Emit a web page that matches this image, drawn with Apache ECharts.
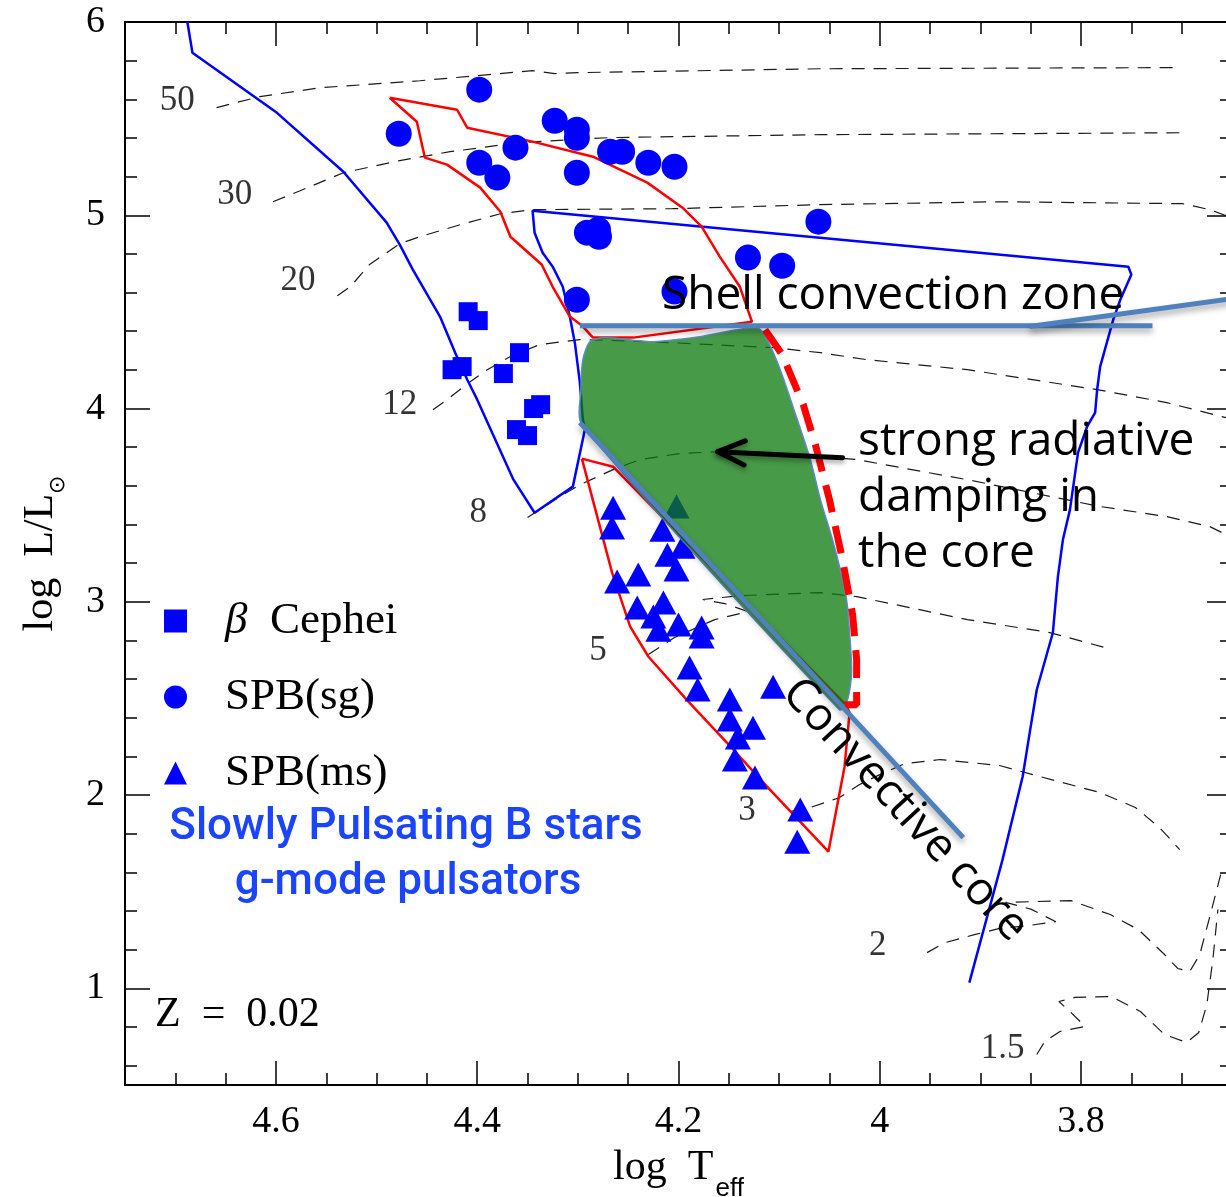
<!DOCTYPE html>
<html>
<head>
<meta charset="utf-8">
<script src="https://cdn.jsdelivr.net/npm/echarts@6/dist/echarts.min.js"></script>
<style>
  html, body { margin: 0; padding: 0; background: #fff; }
  #chart { width: 1226px; height: 1197px; }
</style>
</head>
<body>
<div id="chart"></div>
<script>
// HR diagram: SPB / beta Cephei stars, Z = 0.02

// axis ranges and ticks
const X_MIN = 3.65, X_MAX = 4.75;
const Y_MIN = 0.5, Y_MAX = 6;
const xMajor = [3.8, 4.0, 4.2, 4.4, 4.6];
const xMinor = [3.7, 3.75, 3.85, 3.9, 3.95, 4.05, 4.1, 4.15, 4.25, 4.3, 4.35, 4.45, 4.5, 4.55, 4.65, 4.7];
const yMajor = [1, 2, 3, 4, 5, 6];
const yMinor = [0.6, 0.8, 1.2, 1.4, 1.6, 1.8, 2.2, 2.4, 2.6, 2.8, 3.2, 3.4, 3.6, 3.8, 4.2, 4.4, 4.6, 4.8, 5.2, 5.4, 5.6, 5.8];

// stars  [log Teff, log L]
const betaCep = [[4.409, 4.501], [4.399, 4.455], [4.358, 4.289], [4.425, 4.201], [4.415, 4.217],
  [4.374, 4.181], [4.344, 4.000], [4.337, 4.020], [4.361, 3.891], [4.350, 3.860]];
const spbSg = [[4.478, 5.422], [4.398, 5.650], [4.323, 5.489], [4.301, 5.443], [4.301, 5.401],
  [4.362, 5.350], [4.398, 5.272], [4.380, 5.195], [4.301, 5.220], [4.268, 5.329], [4.256, 5.329],
  [4.230, 5.272], [4.204, 5.251], [4.061, 4.967], [4.291, 4.910], [4.280, 4.925], [4.279, 4.889],
  [4.131, 4.781], [4.097, 4.739], [4.301, 4.563], [4.204, 4.605]];
const spbMs = [[4.265, 3.487], [4.266, 3.384], [4.216, 3.373], [4.196, 3.285], [4.211, 3.244],
  [4.202, 3.167], [4.240, 3.141], [4.261, 3.105], [4.241, 2.970], [4.215, 2.996], [4.225, 2.924],
  [4.220, 2.856], [4.200, 2.882], [4.177, 2.867], [4.177, 2.820], [4.189, 2.660], [4.181, 2.546],
  [4.149, 2.494], [4.149, 2.391], [4.126, 2.349], [4.141, 2.298], [4.144, 2.184], [4.124, 2.091],
  [4.106, 2.561], [4.079, 1.925], [4.082, 1.759], [4.202, 3.493]];

// instability boundaries
const blueBound = [[3.911, 1.030], [3.878, 1.666], [3.858, 2.096], [3.851, 2.323], [3.844, 2.545],
  [3.828, 2.840], [3.823, 3.130], [3.818, 3.322], [3.811, 3.477], [3.803, 3.772], [3.794, 3.906],
  [3.786, 3.979], [3.784, 4.098], [3.781, 4.217], [3.768, 4.460], [3.761, 4.563], [3.750, 4.693],
  [3.753, 4.734], [4.345, 5.024], [4.343, 4.910], [4.335, 4.806], [4.325, 4.734], [4.315, 4.630],
  [4.308, 4.476], [4.303, 4.341], [4.298, 4.134], [4.295, 3.943], [4.293, 3.891], [4.305, 3.596],
  [4.343, 3.461], [4.364, 3.632], [4.400, 4.046], [4.410, 4.150], [4.422, 4.290], [4.437, 4.476],
  [4.464, 4.719], [4.477, 4.848], [4.490, 4.962], [4.533, 5.225], [4.599, 5.530], [4.683, 5.841],
  [4.688, 6.0]];
const redSg = [[4.487, 5.608], [4.420, 5.546], [4.410, 5.453], [4.345, 5.381], [4.285, 5.303],
  [4.231, 5.169], [4.196, 5.039], [4.177, 4.941], [4.159, 4.786], [4.139, 4.630], [4.127, 4.449],
  [4.245, 4.367], [4.285, 4.367], [4.296, 4.430], [4.308, 4.476], [4.325, 4.630], [4.336, 4.745],
  [4.367, 4.889], [4.377, 5.018], [4.397, 5.143], [4.430, 5.262], [4.452, 5.298], [4.460, 5.484],
  [4.487, 5.608]];
const redMs = [[4.296, 3.741], [4.266, 3.151], [4.248, 2.872], [4.230, 2.717], [4.192, 2.494],
  [4.152, 2.272], [4.112, 2.044], [4.051, 1.708], [4.035, 2.147], [4.030, 2.427], [4.034, 2.468],
  [4.265, 3.699], [4.296, 3.741]];

// evolutionary tracks
const track50 = [[4.659, 5.557], [4.616, 5.614], [4.556, 5.660], [4.457, 5.696], [4.345, 5.748],
  [4.323, 5.733], [4.300, 5.738], [4.059, 5.758], [3.709, 5.764]];
const track30 = [[4.603, 5.070], [4.576, 5.127], [4.533, 5.220], [4.477, 5.283], [4.427, 5.329],
  [4.358, 5.376], [4.268, 5.402], [4.059, 5.417], [3.699, 5.427]];
const track20 = [[4.539, 4.584], [4.526, 4.631], [4.507, 4.745], [4.477, 4.853], [4.457, 4.889],
  [4.417, 4.951], [4.377, 5.008], [4.345, 5.029], [4.206, 5.034], [4.059, 5.055], [3.881, 5.070],
  [3.699, 5.060], [3.672, 5.029], [3.656, 4.998]];
const track12 = [[4.444, 3.994], [4.430, 4.046], [4.407, 4.139], [4.390, 4.201], [4.367, 4.269],
  [4.338, 4.331], [4.298, 4.357], [4.228, 4.346], [4.106, 4.315], [4.059, 4.289], [4.013, 4.253],
  [3.913, 4.201], [3.784, 4.098], [3.715, 4.031], [3.656, 3.953]];
const track8 = [[4.350, 3.436], [4.318, 3.544], [4.298, 3.606], [4.265, 3.684], [4.238, 3.736],
  [4.199, 3.767], [4.159, 3.777], [4.099, 3.767], [4.023, 3.736], [3.913, 3.632], [3.781, 3.493],
  [3.715, 3.441], [3.672, 3.389], [3.656, 3.348]];
const track5 = [[4.230, 2.727], [4.204, 2.815], [4.164, 2.908], [4.131, 2.949], [4.154, 2.991],
  [4.176, 3.012], [4.139, 3.032], [4.059, 3.048], [4.023, 3.027], [3.913, 2.908], [3.831, 2.841],
  [3.776, 2.763]];
const track3 = [[4.089, 1.915], [4.069, 1.936], [4.040, 1.987], [4.020, 2.055], [4.000, 2.106],
  [3.975, 2.163], [3.940, 2.184], [3.881, 2.153], [3.841, 2.096], [3.781, 2.013], [3.746, 1.936],
  [3.722, 1.832], [3.702, 1.718]];
const track2 = [[3.953, 1.185], [3.935, 1.237], [3.905, 1.279], [3.881, 1.310], [3.852, 1.325],
  [3.825, 1.345], [3.850, 1.410], [3.875, 1.445], [3.810, 1.454], [3.771, 1.382], [3.743, 1.304],
  [3.717, 1.175], [3.704, 1.103], [3.692, 1.087], [3.682, 1.175], [3.671, 1.392], [3.660, 1.615]];
const track15 = [[3.844, 0.658], [3.836, 0.725], [3.821, 0.777], [3.796, 0.803], [3.811, 0.880],
  [3.822, 0.932], [3.806, 0.953], [3.770, 0.958], [3.741, 0.880], [3.717, 0.761], [3.695, 0.720],
  [3.683, 0.772], [3.675, 0.917], [3.669, 1.149], [3.664, 1.408]];
const trackLabels = [[4.698, 5.593, '50'], [4.641, 5.107, '30'], [4.578, 4.662, '20'],
  [4.477, 4.020, '12'], [4.399, 3.462, '8'], [4.280, 2.748, '5'], [4.132, 1.920, '3'],
  [4.002, 1.222, '2'], [3.878, 0.689, '1.5']];

// annotation shapes
const dampingZone = [[4.296, 3.917], [4.297, 4.098], [4.295, 4.253], [4.288, 4.346], [4.273, 4.367],
  [4.228, 4.346], [4.179, 4.372], [4.122, 4.419], [4.112, 4.357], [4.099, 4.202], [4.082, 3.943],
  [4.069, 3.736], [4.059, 3.529], [4.047, 3.322], [4.040, 3.182], [4.033, 3.011], [4.030, 2.840],
  [4.028, 2.634], [4.032, 2.494], [4.040, 2.442]];
const dampingEdge = [[4.114, 4.408], [4.097, 4.279], [4.076, 4.020], [4.064, 3.813], [4.050, 3.529],
  [4.037, 3.218], [4.027, 2.934], [4.023, 2.701], [4.023, 2.468], [4.035, 2.468]];
const coreLine = [[4.298, 3.927], [3.917, 1.780]];
const shellLine = [[4.298, 4.429], [3.729, 4.429]];
const shellSlant = [[3.851, 4.424], [3.650, 4.568]];
const arrowTail = [4.037, 3.746];
const arrowTip = [4.161, 3.777];

const SERIF = '"Liberation Serif", "DejaVu Serif", serif';
const SANS = '"Open Sans", "DejaVu Sans", sans-serif';
const STEEL = '#4f81bd';

const chart = echarts.init(document.getElementById('chart'));

const tickLabel = v => String(+(+v).toFixed(1));

function xAxisFor(pos, ticks, len, main, extra) {
  return Object.assign({
    type: 'value', position: pos, min: X_MIN, max: X_MAX, inverse: true,
    axisLine: { show: main, onZero: false, lineStyle: { color: '#000', width: 2 } },
    axisTick: { show: true, inside: true, length: len, customValues: ticks,
      lineStyle: { color: '#000', width: 1.5 } },
    axisLabel: { show: main && pos === 'bottom', customValues: ticks, margin: 18, color: '#000',
      fontFamily: SERIF, fontSize: 38, formatter: tickLabel },
    splitLine: { show: false }
  }, extra || {});
}

function yAxisFor(pos, ticks, len, main, extra) {
  return Object.assign({
    type: 'value', position: pos, min: Y_MIN, max: Y_MAX,
    axisLine: { show: main, onZero: false, lineStyle: { color: '#000', width: 2 } },
    axisTick: { show: true, inside: true, length: len, customValues: ticks,
      lineStyle: { color: '#000', width: 1.5 } },
    axisLabel: { show: main && pos === 'left', customValues: ticks, margin: 20, color: '#000',
      fontFamily: SERIF, fontSize: 38, formatter: tickLabel },
    splitLine: { show: false }
  }, extra || {});
}

const trackStyle = { color: '#1a1a1a', width: 1.2, type: [13, 9] };
const tracks = [track50, track30, track20, track12, track8, track5, track3, track2, track15];

const lineSeries = (data, style, z) => ({
  type: 'line', data: data, symbol: 'none', silent: true, z: z, lineStyle: style
});

const series = [];
tracks.forEach(t => series.push(lineSeries(t, trackStyle, 1)));
series.push({
  type: 'scatter', data: trackLabels, symbolSize: 0, silent: true, z: 2,
  label: { show: true, position: 'inside', formatter: p => p.value[2],
    fontFamily: SERIF, fontSize: 35, color: '#000' }
});
series.push(lineSeries(blueBound, { color: '#0000ff', width: 2.5 }, 2));
series.push(lineSeries(redSg, { color: '#ff0000', width: 2.5 }, 2));
series.push(lineSeries(redMs, { color: '#ff0000', width: 2.5 }, 2));
const markerStyle = { color: '#0000ff', opacity: 1 };
series.push({ type: 'scatter', name: 'β Cephei', data: betaCep, symbol: 'rect', symbolSize: 19,
  itemStyle: markerStyle, z: 3 });
series.push({ type: 'scatter', name: 'SPB(sg)', data: spbSg, symbol: 'circle', symbolSize: 26,
  itemStyle: markerStyle, z: 3 });
series.push({ type: 'scatter', name: 'SPB(ms)', data: spbMs, symbol: 'triangle', symbolSize: [26, 24],
  itemStyle: markerStyle, z: 3 });
// green region of strong radiative damping
series.push({
  type: 'custom', data: [0], z: 4, silent: true,
  renderItem: (params, api) => ({
    type: 'polygon',
    shape: { points: dampingZone.map(p => api.coord(p)), smooth: 0.25 },
    style: { fill: 'rgba(13,122,14,0.76)', stroke: '#5b8bc4', lineWidth: 1.5 }
  })
});
series.push(lineSeries(dampingEdge, { color: '#ff0000', width: 7, type: [28, 14] }, 5));
const steelStyle = { color: STEEL, width: 5, shadowColor: 'rgba(0,0,0,0.35)', shadowBlur: 6, shadowOffsetY: 4 };
series.push(lineSeries(coreLine, steelStyle, 6));
series.push(lineSeries(shellLine, steelStyle, 6));
series.push(lineSeries(shellSlant, steelStyle, 6));
// arrow pointing into the damping zone
series.push({
  type: 'custom', data: [0], z: 7, silent: true,
  renderItem: (params, api) => {
    const a = api.coord(arrowTail), b = api.coord(arrowTip);
    const dx = a[0] - b[0], dy = a[1] - b[1];
    const d = Math.sqrt(dx * dx + dy * dy);
    const ux = dx / d, uy = dy / d;
    const hl = 27, hw = 12;
    const style = { stroke: '#000', lineWidth: 5, lineCap: 'round', lineJoin: 'round', fill: null,
      shadowColor: 'rgba(0,0,0,0.35)', shadowBlur: 5, shadowOffsetY: 3 };
    return {
      type: 'group',
      children: [
        { type: 'line', shape: { x1: a[0], y1: a[1], x2: b[0], y2: b[1] }, style: style },
        { type: 'polyline', shape: { points: [
          [b[0] + ux * hl - uy * hw, b[1] + uy * hl + ux * hw], b,
          [b[0] + ux * hl + uy * hw, b[1] + uy * hl - ux * hw]] }, style: style }
      ]
    };
  }
});

const option = {
  animation: false,
  backgroundColor: '#fff',
  grid: { left: 125, top: 22, width: 1107, height: 1063, outerBoundsMode: 'none', containLabel: false },
  xAxis: [
    xAxisFor('bottom', xMajor, 24, true, {
      name: 'log  T{sub|eff}', nameLocation: 'middle', nameGap: 58,
      nameTextStyle: { fontFamily: SERIF, fontSize: 42, color: '#000', lineHeight: 44,
        rich: { sub: { fontFamily: '"Liberation Sans", sans-serif', fontSize: 26, lineHeight: 26,
          padding: [30, 0, 0, 2], verticalAlign: 'top', color: '#000' } } }
    }),
    xAxisFor('bottom', xMinor, 12, false),
    xAxisFor('top', xMajor, 24, true),
    xAxisFor('top', xMinor, 12, false)
  ],
  yAxis: [
    yAxisFor('left', yMajor, 25, true, {
      name: 'log  L/L{sub|⊙}', nameLocation: 'middle', nameGap: 62,
      nameTextStyle: { fontFamily: SERIF, fontSize: 42, color: '#000', lineHeight: 44,
        rich: { sub: { fontFamily: '"DejaVu Sans", sans-serif', fontSize: 22, lineHeight: 22,
          padding: [28, 0, 0, 0], verticalAlign: 'top', color: '#000' } } }
    }),
    yAxisFor('left', yMinor, 12, false),
    yAxisFor('right', yMajor, 25, true),
    yAxisFor('right', yMinor, 12, false)
  ],
  legend: {
    orient: 'vertical', left: 164, top: 598, itemWidth: 23, itemHeight: 23, itemGap: 30,
    selectedMode: false, padding: 0,
    data: [{ name: 'β Cephei', icon: 'rect' }, { name: 'SPB(sg)', icon: 'circle' },
      { name: 'SPB(ms)', icon: 'triangle' }],
    formatter: n => (n === 'β Cephei' ? '{i|β}  Cephei' : n),
    textStyle: { fontFamily: SERIF, fontSize: 45, color: '#000', lineHeight: 46, padding: [0, 0, 0, 33],
      rich: { i: { fontFamily: SERIF, fontStyle: 'italic', fontSize: 45, lineHeight: 46, color: '#000' } } }
  },
  graphic: [
    { type: 'text', x: 662, y: 296, z: 100, silent: true,
      style: { text: 'Shell convection zone', fontFamily: SANS, fontSize: 46, fill: '#000',
        align: 'left', verticalAlign: 'middle' } },
    { type: 'text', x: 858, y: 498, z: 100, silent: true,
      style: { text: 'strong radiative\ndamping in\nthe core', fontFamily: SANS, fontSize: 46,
        lineHeight: 56, fill: '#000', align: 'left', verticalAlign: 'middle' } },
    { type: 'text', x: 905, y: 810, z: 100, rotation: -0.826, silent: true,
      style: { text: 'Convective core', fontFamily: SANS, fontSize: 46, fill: '#000',
        align: 'center', verticalAlign: 'middle' } },
    { type: 'text', x: 406, y: 828, z: 100, silent: true,
      style: { text: 'Slowly Pulsating B stars', fontFamily: 'Roboto, sans-serif', fontWeight: 500,
        fontSize: 44, fill: '#1b44ff', align: 'center', verticalAlign: 'middle' } },
    { type: 'text', x: 408, y: 883, z: 100, silent: true,
      style: { text: 'g-mode pulsators', fontFamily: 'Roboto, sans-serif', fontWeight: 500,
        fontSize: 44, fill: '#1b44ff', align: 'center', verticalAlign: 'middle' } },
    { type: 'text', x: 155, y: 1015, z: 100, silent: true,
      style: { text: 'Z  =  0.02', fontFamily: SERIF, fontSize: 42, fill: '#000',
        align: 'left', verticalAlign: 'middle' } }
  ],
  series: series
};

chart.setOption(option);
</script>
</body>
</html>
